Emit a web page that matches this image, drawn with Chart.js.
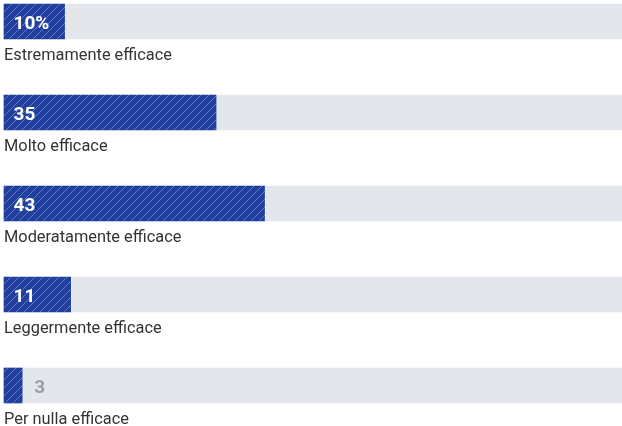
<!DOCTYPE html>
<html>
<head>
<meta charset="utf-8">
<script src="https://cdn.jsdelivr.net/npm/chart.js@4"></script>
<style>
  html, body { margin: 0; padding: 0; background: #fff; }
  #wrap { width: 622px; height: 426px; }
</style>
</head>
<body>
<div id="wrap"><canvas id="chart"></canvas></div>
<script>
// dati
const categorie = ["Estremamente efficace", "Molto efficace", "Moderatamente efficace", "Leggermente efficace", "Per nulla efficace"];
const valori = [10, 35, 43, 11, 3];
const etichette = ["10%", "35", "43", "11", "3"];
const scalaMax = 102;

const FONT = "'Roboto', 'Liberation Sans', sans-serif";

// tratteggio diagonale blu
function creaTratteggio() {
    const c = document.createElement("canvas");
    c.width = 8; c.height = 8;
    const g = c.getContext("2d");
    g.fillStyle = "#21409e";
    g.fillRect(0, 0, 8, 8);
    g.strokeStyle = "#5a76c4";
    g.lineWidth = 1;
    g.beginPath();
    g.moveTo(0, 8); g.lineTo(8, 0);
    g.moveTo(-4, 4); g.lineTo(4, -4);
    g.moveTo(4, 12); g.lineTo(12, 4);
    g.stroke();
    return g.createPattern(c, "repeat");
}

const etichettePlugin = {
    id: "etichette",
    afterDatasetsDraw(chart) {
        const ctx = chart.ctx;
        const meta = chart.getDatasetMeta(0);
        ctx.save();
        // carattere condensato: restringo orizzontalmente
        ctx.font = "17px " + FONT;
        const stretta = 168 / ctx.measureText(categorie[0]).width;
        meta.data.forEach((bar, i) => {
            const top = bar.y - bar.height / 2;
            // valore
            ctx.font = "bold 19px " + FONT;
            ctx.textBaseline = "alphabetic";
            ctx.textAlign = "left";
            const w = ctx.measureText(etichette[i]).width;
            const yTesto = top + 25;
            if (bar.x - bar.base > w + 14) {
                ctx.fillStyle = "#ffffff";
                ctx.fillText(etichette[i], bar.base + 9.5, yTesto);
            } else {
                ctx.fillStyle = "#9aa0a6";
                ctx.fillText(etichette[i], bar.x + 12, yTesto);
            }
            // categoria
            ctx.save();
            ctx.font = "17px " + FONT;
            ctx.fillStyle = "#333333";
            ctx.translate(4, top + 55.5);
            ctx.scale(stretta, 1);
            ctx.fillText(categorie[i], 0, 0);
            ctx.restore();
        });
        ctx.restore();
    }
};

new Chart(document.getElementById("chart"), {
    type: "bar",
    data: {
        labels: categorie,
        datasets: [
            {
                data: valori,
                backgroundColor: creaTratteggio(),
                barThickness: 35,
                grouped: false,
                order: 0,
                clip: false
            },
            {
                data: categorie.map(() => scalaMax),
                backgroundColor: "#e3e7eb",
                barThickness: 35,
                grouped: false,
                order: 1,
                clip: false
            }
        ]
    },
    options: {
        indexAxis: "y",
        responsive: true,
        maintainAspectRatio: false,
        animation: false,
        layout: { padding: { top: 21.5, bottom: 40.5, left: 4, right: 0 } },
        scales: {
            x: { display: false, min: 0, max: scalaMax },
            y: { display: false, offset: false }
        },
        plugins: {
            legend: { display: false },
            tooltip: { enabled: false }
        }
    },
    plugins: [etichettePlugin]
});
</script>
</body>
</html>
